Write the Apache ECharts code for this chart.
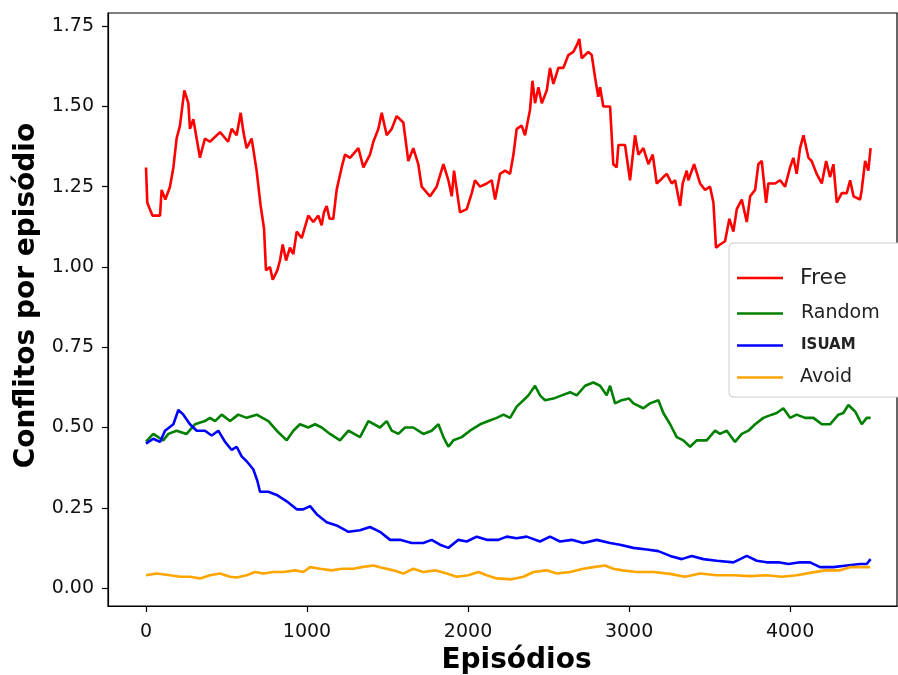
<!DOCTYPE html>
<html>
<head>
<meta charset="utf-8">
<script src="https://cdn.jsdelivr.net/npm/echarts@6/dist/echarts.min.js"></script>
<style>
  html, body { margin: 0; padding: 0; background: #fff; }
  #chart { width: 898px; height: 675px; }
</style>
</head>
<body>
<div id="chart"></div>
<script>
// valores (episódio, conflitos)
const freeEp = [0, 8, 40, 87, 97, 120, 149, 170, 190, 211, 238, 263, 273, 294, 335, 366, 397, 460, 510, 532, 563, 588, 605, 625, 656, 687, 712, 733, 745, 770, 787, 816, 832, 849, 870, 894, 915, 936, 967, 1008, 1039, 1070, 1091, 1105, 1122, 1140, 1163, 1184, 1215, 1236, 1267, 1319, 1350, 1391, 1412, 1443, 1464, 1495, 1526, 1557, 1598, 1629, 1660, 1691, 1712, 1764, 1805, 1847, 1878, 1899, 1913, 1930, 1950, 1992, 2023, 2043, 2075, 2116, 2147, 2168, 2199, 2230, 2261, 2282, 2302, 2333, 2354, 2385, 2400, 2416, 2437, 2458, 2489, 2509, 2530, 2561, 2592, 2623, 2654, 2675, 2691, 2706, 2747, 2768, 2789, 2809, 2820, 2840, 2882, 2902, 2923, 2934, 2975, 3006, 3037, 3058, 3089, 3120, 3147, 3172, 3213, 3234, 3265, 3286, 3317, 3333, 3358, 3368, 3404, 3441, 3472, 3503, 3524, 3540, 3565, 3596, 3623, 3648, 3669, 3700, 3731, 3752, 3783, 3803, 3824, 3851, 3865, 3907, 3938, 3969, 4000, 4020, 4041, 4062, 4083, 4114, 4134, 4165, 4197, 4224, 4248, 4269, 4290, 4321, 4352, 4373, 4394, 4435, 4445, 4466, 4486, 4500];
const freeVal = [1.31, 1.20, 1.16, 1.16, 1.24, 1.21, 1.25, 1.31, 1.40, 1.44, 1.55, 1.51, 1.43, 1.46, 1.34, 1.40, 1.39, 1.42, 1.39, 1.43, 1.41, 1.48, 1.42, 1.37, 1.40, 1.30, 1.19, 1.12, 0.99, 1.00, 0.96, 0.99, 1.02, 1.07, 1.02, 1.06, 1.04, 1.11, 1.09, 1.16, 1.14, 1.16, 1.13, 1.17, 1.19, 1.15, 1.15, 1.24, 1.31, 1.35, 1.34, 1.37, 1.31, 1.35, 1.39, 1.43, 1.48, 1.41, 1.43, 1.47, 1.45, 1.33, 1.37, 1.32, 1.25, 1.22, 1.25, 1.32, 1.27, 1.22, 1.30, 1.24, 1.17, 1.18, 1.23, 1.27, 1.25, 1.26, 1.27, 1.21, 1.29, 1.30, 1.29, 1.35, 1.43, 1.44, 1.41, 1.49, 1.58, 1.51, 1.56, 1.51, 1.55, 1.62, 1.57, 1.62, 1.62, 1.66, 1.67, 1.69, 1.71, 1.65, 1.67, 1.66, 1.59, 1.53, 1.56, 1.50, 1.50, 1.32, 1.31, 1.38, 1.38, 1.27, 1.41, 1.35, 1.37, 1.32, 1.35, 1.26, 1.28, 1.29, 1.26, 1.27, 1.19, 1.26, 1.30, 1.27, 1.32, 1.26, 1.24, 1.25, 1.20, 1.06, 1.07, 1.08, 1.15, 1.11, 1.18, 1.21, 1.14, 1.22, 1.24, 1.32, 1.33, 1.20, 1.26, 1.26, 1.27, 1.25, 1.31, 1.34, 1.29, 1.37, 1.41, 1.34, 1.33, 1.29, 1.26, 1.33, 1.28, 1.32, 1.20, 1.23, 1.23, 1.27, 1.22, 1.21, 1.24, 1.33, 1.30, 1.37];

const randomEp = [0, 45, 107, 139, 190, 252, 304, 366, 397, 429, 470, 522, 573, 625, 687, 760, 812, 874, 915, 956, 1008, 1050, 1091, 1143, 1205, 1257, 1329, 1381, 1453, 1495, 1526, 1567, 1609, 1660, 1722, 1774, 1816, 1847, 1878, 1909, 1961, 2012, 2075, 2126, 2178, 2220, 2261, 2302, 2344, 2375, 2416, 2447, 2478, 2530, 2582, 2634, 2675, 2727, 2778, 2820, 2861, 2882, 2913, 2954, 3000, 3027, 3089, 3130, 3182, 3213, 3255, 3296, 3337, 3379, 3420, 3482, 3534, 3565, 3607, 3658, 3700, 3741, 3783, 3834, 3886, 3917, 3958, 4000, 4041, 4093, 4145, 4197, 4248, 4300, 4331, 4362, 4404, 4445, 4476, 4500];
const randomVal = [0.456, 0.48, 0.46, 0.48, 0.49, 0.48, 0.51, 0.52, 0.53, 0.52, 0.54, 0.52, 0.54, 0.53, 0.54, 0.52, 0.49, 0.46, 0.49, 0.51, 0.50, 0.51, 0.50, 0.48, 0.46, 0.49, 0.47, 0.52, 0.50, 0.52, 0.49, 0.48, 0.50, 0.50, 0.48, 0.49, 0.51, 0.47, 0.44, 0.46, 0.47, 0.49, 0.51, 0.52, 0.53, 0.54, 0.53, 0.565, 0.585, 0.60, 0.63, 0.60, 0.585, 0.59, 0.60, 0.61, 0.60, 0.63, 0.64, 0.63, 0.60, 0.63, 0.575, 0.585, 0.59, 0.575, 0.56, 0.575, 0.585, 0.545, 0.51, 0.47, 0.46, 0.44, 0.46, 0.46, 0.49, 0.48, 0.49, 0.455, 0.48, 0.49, 0.51, 0.53, 0.54, 0.545, 0.56, 0.53, 0.54, 0.53, 0.53, 0.51, 0.51, 0.54, 0.545, 0.57, 0.55, 0.51, 0.53, 0.53];

const isuamEp = [0, 45, 87, 118, 170, 201, 232, 273, 315, 366, 408, 449, 491, 532, 563, 594, 625, 666, 691, 708, 760, 812, 874, 936, 977, 1019, 1060, 1122, 1184, 1257, 1329, 1391, 1453, 1516, 1578, 1650, 1722, 1774, 1826, 1878, 1940, 1992, 2054, 2116, 2188, 2240, 2302, 2364, 2447, 2509, 2571, 2644, 2716, 2799, 2882, 2944, 3027, 3110, 3182, 3255, 3327, 3389, 3462, 3545, 3648, 3731, 3793, 3855, 3928, 3990, 4062, 4124, 4186, 4269, 4352, 4435, 4476, 4500];
const isuamVal = [0.45, 0.465, 0.455, 0.49, 0.51, 0.555, 0.54, 0.51, 0.49, 0.49, 0.475, 0.49, 0.455, 0.43, 0.44, 0.41, 0.395, 0.37, 0.335, 0.30, 0.30, 0.29, 0.27, 0.245, 0.245, 0.255, 0.23, 0.205, 0.195, 0.175, 0.18, 0.19, 0.175, 0.15, 0.15, 0.14, 0.14, 0.15, 0.135, 0.125, 0.15, 0.145, 0.16, 0.15, 0.15, 0.16, 0.155, 0.16, 0.145, 0.16, 0.145, 0.15, 0.14, 0.15, 0.14, 0.135, 0.125, 0.12, 0.115, 0.10, 0.09, 0.10, 0.09, 0.085, 0.08, 0.10, 0.085, 0.08, 0.08, 0.075, 0.08, 0.08, 0.065, 0.065, 0.07, 0.075, 0.075, 0.09];

const avoidEp = [0, 66, 149, 211, 273, 335, 397, 460, 522, 563, 625, 677, 729, 791, 853, 925, 977, 1019, 1081, 1153, 1215, 1288, 1340, 1412, 1453, 1536, 1598, 1660, 1722, 1795, 1868, 1930, 2002, 2064, 2116, 2178, 2271, 2344, 2406, 2489, 2551, 2634, 2716, 2778, 2851, 2902, 2960, 3048, 3151, 3255, 3348, 3441, 3545, 3648, 3752, 3855, 3948, 4041, 4134, 4217, 4310, 4373, 4435, 4497];
const avoidVal = [0.04, 0.045, 0.04, 0.035, 0.035, 0.03, 0.04, 0.045, 0.035, 0.033, 0.04, 0.05, 0.045, 0.05, 0.05, 0.055, 0.05, 0.065, 0.06, 0.055, 0.06, 0.06, 0.065, 0.07, 0.065, 0.055, 0.045, 0.06, 0.05, 0.055, 0.045, 0.035, 0.04, 0.05, 0.04, 0.03, 0.027, 0.035, 0.05, 0.055, 0.045, 0.05, 0.06, 0.065, 0.07, 0.06, 0.055, 0.05, 0.05, 0.044, 0.035, 0.045, 0.04, 0.04, 0.037, 0.04, 0.035, 0.04, 0.048, 0.055, 0.055, 0.065, 0.065, 0.065];

const xTicks = [0, 1000, 2000, 3000, 4000];
const yTicks = [0, 0.25, 0.5, 0.75, 1.0, 1.25, 1.5, 1.75];

const seriesNames = ['Free', 'Random', 'ISUAM', 'Avoid'];
const seriesColors = ['#ff0000', '#008000', '#0000ff', '#ffa500'];

const pairs = (xs, ys) => xs.map((x, i) => [x, ys[i]]);

const seriesData = [
	pairs(freeEp, freeVal),
	pairs(randomEp, randomVal),
	pairs(isuamEp, isuamVal),
	pairs(avoidEp, avoidVal)
];

// estilo do texto de cada entrada da legenda
const legendKeys = { Free: 'free', Random: 'rnd', ISUAM: 'isuam', Avoid: 'avoid' };

const chart = echarts.init(document.getElementById('chart'));

const tickFont = { fontFamily: 'DejaVu Sans', fontSize: 19, color: '#111' };
const titleFont = { fontFamily: 'DejaVu Sans', fontWeight: 'bold', fontSize: 28, color: '#000', padding: [0, 0, 0, 28] };

chart.setOption({
	animation: false,
	backgroundColor: '#fff',
	grid: {
		left: 108, right: 1, top: 13, bottom: 69,
		show: true, borderColor: '#000', borderWidth: 1.2,
		containLabel: false,
		outerBoundsMode: 'none'
	},
	xAxis: {
		type: 'value',
		min: -236, max: 4664,
		name: 'Episódios',
		nameLocation: 'middle',
		nameGap: 40,
		nameTextStyle: titleFont,
		axisLine: { show: true, onZero: false, lineStyle: { color: '#000', width: 1.2 } },
		axisTick: { show: true, length: 6, customValues: xTicks, lineStyle: { color: '#000', width: 1.2 } },
		axisLabel: Object.assign({
			margin: 17,
			customValues: xTicks,
			formatter: v => String(v)
		}, tickFont),
		splitLine: { show: false }
	},
	yAxis: {
		type: 'value',
		min: -0.056, max: 1.791,
		name: 'Conflitos por episódio',
		nameLocation: 'middle',
		nameGap: 64,
		nameTextStyle: titleFont,
		axisLine: { show: true, onZero: false, lineStyle: { color: '#000', width: 1.2 } },
		axisTick: { show: true, length: 6, customValues: yTicks, lineStyle: { color: '#000', width: 1.2 } },
		axisLabel: Object.assign({
			margin: 14,
			customValues: yTicks,
			formatter: v => v.toFixed(2)
		}, tickFont),
		splitLine: { show: false }
	},
	legend: {
		orient: 'vertical',
		left: 729, top: 243,
		data: seriesNames,
		icon: 'rect',
		itemWidth: 46, itemHeight: 2.5,
		itemGap: 15,
		padding: [24, 40, 10, 8],
		backgroundColor: '#fff',
		borderColor: '#cccccc',
		borderWidth: 1,
		borderRadius: 4,
		formatter: name => '{' + legendKeys[name] + '|' + name + '}',
		textStyle: {
			fontFamily: 'DejaVu Sans',
			color: '#222',
			rich: {
				free: { fontSize: 22, padding: [0, 0, 0, 12] },
				rnd: { fontSize: 19, padding: [0, 0, 0, 13] },
				isuam: { fontSize: 15, fontWeight: 'bold', padding: [0, 0, 0, 13] },
				avoid: { fontSize: 19, padding: [0, 0, 0, 12] }
			}
		}
	},
	series: seriesNames.map((name, i) => ({
		name: name,
		type: 'line',
		data: seriesData[i],
		symbol: 'none',
		lineStyle: { color: seriesColors[i], width: 2.6 },
		itemStyle: { color: seriesColors[i] },
		z: 2
	}))
});
</script>
</body>
</html>
